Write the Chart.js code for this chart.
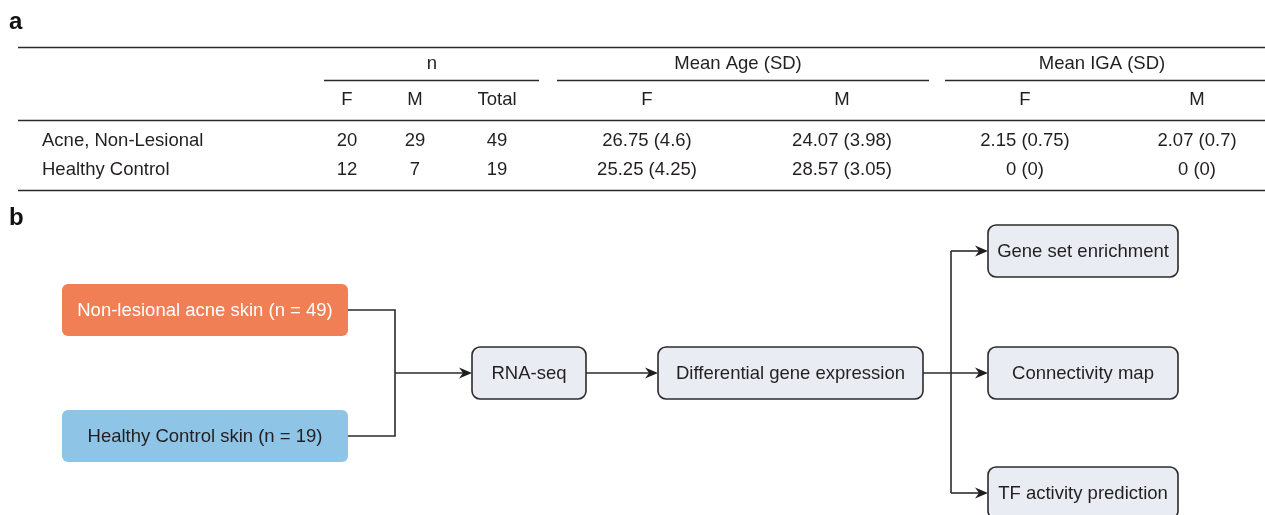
<!DOCTYPE html>
<html>
<head>
<meta charset="utf-8">
<script src="https://cdn.jsdelivr.net/npm/chart.js@4.4.1/dist/chart.umd.min.js"></script>
<style>
html,body{margin:0;padding:0;background:#ffffff;}
#wrap{width:1265px;height:515px;}
</style>
</head>
<body>
<div id="wrap"><canvas id="c" width="1265" height="515"></canvas></div>
<script>
// ---------- DATA ----------
const groups = ["Acne, Non-Lesional", "Healthy Control"];
const nF = [20, 12];
const nM = [29, 7];
const nTotal = [49, 19];
const ageMeanF = [26.75, 25.25];
const ageSdF = [4.6, 4.25];
const ageMeanM = [24.07, 28.57];
const ageSdM = [3.98, 3.05];
const igaMeanF = [2.15, 0];
const igaSdF = [0.75, 0];
const igaMeanM = [2.07, 0];
const igaSdM = [0.7, 0];
const headerGroups = ["n", "Mean Age (SD)", "Mean IGA (SD)"];
const subHeaders = ["F", "M", "Total", "F", "M", "F", "M"];
const panelLabels = ["a", "b"];
const sampleNames = ["Non-lesional acne skin", "Healthy Control skin"];
const stepNames = ["RNA-seq", "Differential gene expression"];
const analysisNames = ["Gene set enrichment", "Connectivity map", "TF activity prediction"];

// ---------- LAYOUT (positions/styles) ----------
const FONT = '"Liberation Sans", Arial, Helvetica, sans-serif';
const FS = 18.5;
const TXT = '#231f20';
const colX = [347, 415, 497, 647, 842, 1025, 1197];
const groupX = [432, 738, 1102];
const groupLine = [[324, 539], [557, 929], [945, 1265]];
const rowY = [141, 170];

const boxes = {
  acne:   {x0: 62,  x1: 348,  y0: 284, y1: 336, fill: '#F07F55', stroke: null, r: 6, color: '#ffffff'},
  hc:     {x0: 62,  x1: 348,  y0: 410, y1: 462, fill: '#8EC4E6', stroke: null, r: 6, color: TXT},
  rna:    {x0: 472, x1: 586,  y0: 347, y1: 399, fill: '#E9ECF3', stroke: '#2b2b2b', r: 8, color: TXT},
  deg:    {x0: 658, x1: 923,  y0: 347, y1: 399, fill: '#E9ECF3', stroke: '#2b2b2b', r: 8, color: TXT},
  gse:    {x0: 988, x1: 1178, y0: 225, y1: 277, fill: '#E9ECF3', stroke: '#2b2b2b', r: 8, color: TXT},
  cmap:   {x0: 988, x1: 1178, y0: 347, y1: 399, fill: '#E9ECF3', stroke: '#2b2b2b', r: 8, color: TXT},
  tf:     {x0: 988, x1: 1178, y0: 467, y1: 519, fill: '#E9ECF3', stroke: '#2b2b2b', r: 8, color: TXT}
};

function fmt(m, s) { return m + ' (' + s + ')'; }

const drawPlugin = {
  id: 'tableFlow',
  afterDraw(chart) {
    const ctx = chart.ctx;
    const xs = chart.scales.x, ys = chart.scales.y;
    const X = v => xs.getPixelForValue(v);
    const Y = v => ys.getPixelForValue(v);
    ctx.save();

    function hline(a, b, y, w, col) {
      ctx.beginPath();
      ctx.strokeStyle = col || '#2a2a2a';
      ctx.lineWidth = w;
      ctx.moveTo(X(a), Y(y));
      ctx.lineTo(X(b), Y(y));
      ctx.stroke();
    }
    function text(t, x, y, opts) {
      opts = opts || {};
      ctx.font = (opts.weight || 'normal') + ' ' + (opts.size || FS) + 'px ' + FONT;
      ctx.fillStyle = opts.color || TXT;
      ctx.textAlign = opts.align || 'center';
      ctx.textBaseline = opts.baseline || 'middle';
      ctx.fillText(t, X(x), Y(y));
    }

    // panel labels
    text(panelLabels[0], 9, 29, {weight: 'bold', size: 24, align: 'left', color: '#111', baseline: 'alphabetic'});
    text(panelLabels[1], 9, 225, {weight: 'bold', size: 24, align: 'left', color: '#111', baseline: 'alphabetic'});

    // table rules
    hline(18, 1265, 47.5, 1.6);
    hline(18, 1265, 120.5, 1.6);
    hline(18, 1265, 190.5, 1.6);
    groupLine.forEach(g => hline(g[0], g[1], 80.5, 1.3));

    // headers
    headerGroups.forEach((h, i) => text(h, groupX[i], 64));
    subHeaders.forEach((h, i) => text(h, colX[i], 100));

    // rows
    groups.forEach((g, r) => {
      const y = rowY[r];
      text(g, 42, y, {align: 'left'});
      const cells = [nF[r], nM[r], nTotal[r],
        fmt(ageMeanF[r], ageSdF[r]), fmt(ageMeanM[r], ageSdM[r]),
        fmt(igaMeanF[r], igaSdF[r]), fmt(igaMeanM[r], igaSdM[r])];
      cells.forEach((c, i) => text(String(c), colX[i], y));
    });

    // flowchart
    function rrect(b) {
      const x0 = X(b.x0), x1 = X(b.x1), y0 = Y(b.y0), y1 = Y(b.y1), r = b.r;
      ctx.beginPath();
      ctx.moveTo(x0 + r, y0);
      ctx.lineTo(x1 - r, y0);
      ctx.arcTo(x1, y0, x1, y0 + r, r);
      ctx.lineTo(x1, y1 - r);
      ctx.arcTo(x1, y1, x1 - r, y1, r);
      ctx.lineTo(x0 + r, y1);
      ctx.arcTo(x0, y1, x0, y1 - r, r);
      ctx.lineTo(x0, y0 + r);
      ctx.arcTo(x0, y0, x0 + r, y0, r);
      ctx.closePath();
      ctx.fillStyle = b.fill;
      ctx.fill();
      if (b.stroke) {
        ctx.strokeStyle = b.stroke;
        ctx.lineWidth = 1.6;
        ctx.stroke();
      }
    }
    function boxText(b, t) {
      text(t, (b.x0 + b.x1) / 2, (b.y0 + b.y1) / 2 + 0.5, {color: b.color});
    }
    function poly(pts) {
      ctx.beginPath();
      ctx.strokeStyle = '#2b2b2b';
      ctx.lineWidth = 1.6;
      pts.forEach((p, i) => i ? ctx.lineTo(X(p[0]), Y(p[1])) : ctx.moveTo(X(p[0]), Y(p[1])));
      ctx.stroke();
    }
    function arrow(xa, xb, y) {
      poly([[xa, y], [xb - 7, y]]);
      const tx = X(xb), ty = Y(y);
      ctx.beginPath();
      ctx.fillStyle = '#1e1e1e';
      ctx.moveTo(tx, ty);
      ctx.lineTo(tx - 13, ty - 5.5);
      ctx.lineTo(tx - 9, ty);
      ctx.lineTo(tx - 13, ty + 5.5);
      ctx.closePath();
      ctx.fill();
    }

    // connectors
    const yMid = 373;
    poly([[boxes.acne.x1, 310], [395, 310], [395, 436], [boxes.hc.x1, 436]]);
    arrow(395, boxes.rna.x0, yMid);
    arrow(boxes.rna.x1, boxes.deg.x0, yMid);
    arrow(boxes.deg.x1, boxes.cmap.x0, yMid);
    poly([[951, 251], [951, 493]]);
    arrow(951, boxes.gse.x0, 251);
    arrow(951, boxes.tf.x0, 493);

    Object.values(boxes).forEach(rrect);
    boxText(boxes.acne, sampleNames[0] + ' (n = ' + nTotal[0] + ')');
    boxText(boxes.hc, sampleNames[1] + ' (n = ' + nTotal[1] + ')');
    boxText(boxes.rna, stepNames[0]);
    boxText(boxes.deg, stepNames[1]);
    boxText(boxes.gse, analysisNames[0]);
    boxText(boxes.cmap, analysisNames[1]);
    boxText(boxes.tf, analysisNames[2]);

    ctx.restore();
  }
};

new Chart(document.getElementById('c'), {
  type: 'scatter',
  data: {datasets: [{data: [], showLine: false}]},
  options: {
    responsive: false,
    devicePixelRatio: 1,
    animation: false,
    layout: {padding: 0},
    plugins: {legend: {display: false}, tooltip: {enabled: false}, title: {display: false}},
    scales: {
      x: {type: 'linear', min: 0, max: 1265, display: false},
      y: {type: 'linear', min: 0, max: 515, reverse: true, display: false}
    }
  },
  plugins: [drawPlugin]
});
</script>
</body>
</html>
